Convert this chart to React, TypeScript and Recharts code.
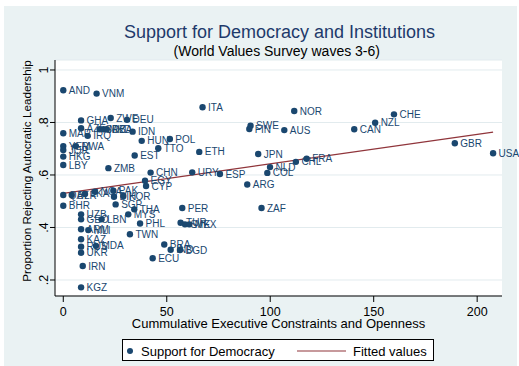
import React from 'react';
import { ScatterChart, Scatter, XAxis, YAxis, CartesianGrid, Legend } from 'recharts';

// ---- data ----
const countries = [
  'AND', 'VNM', 'GHA', 'ZWE', 'DEU', 'MAR', 'AZE', 'SRB', 'MKD', 'DZA',
  'IRQ', 'IDN', 'HUN', 'POL', 'TTO', 'EST', 'ZMB', 'YEM', 'RWA', 'JOR',
  'HKG', 'LBY', 'ITA', 'SWE', 'FIN', 'ETH', 'JPN', 'CHN', 'URY', 'ESP',
  'EGY', 'CYP', 'ARG', 'PER', 'ZAF', 'TUR', 'SVK', 'MEX', 'PHL', 'TWN',
  'BRA', 'IND', 'BGD', 'ECU', 'THA', 'MYS', 'QAT', 'BLR', 'LKA', 'NGA',
  'PAK', 'BIH', 'KOR', 'SGP', 'BHR', 'UZB', 'GEO', 'LBN', 'ARM', 'MLI',
  'KAZ', 'RUS', 'MDA', 'UKR', 'IRN', 'KGZ', 'NOR', 'AUS', 'CAN', 'NZL',
  'FRA', 'CHL', 'NLD', 'COL', 'CHE', 'GBR', 'USA',
];
const constraintScores = [
  0, 16.1, 8.6, 22.9, 30.8, 0, 8.6, 17.6, 19.4, 21.0,
  11.8, 33.5, 37.9, 51.5, 45.9, 34.5, 21.8, 0, 6.1, 0,
  0, 0, 67.3, 90.5, 89.9, 65.7, 94.2, 42.2, 62.3, 75.7,
  39.5, 40.0, 88.9, 57.5, 95.8, 56.7, 58.8, 60.9, 37.1, 32.2,
  48.8, 51.9, 56.4, 43.2, 34.3, 31.4, 0, 4.1, 10.5, 15.3,
  24.2, 24.5, 29.0, 25.3, 0, 8.6, 8.6, 18.5, 8.6, 12.1,
  8.6, 8.6, 15.8, 8.6, 9.4, 8.6, 111.6, 106.8, 140.6, 150.7,
  117.6, 112.4, 99.9, 98.6, 159.8, 189.2, 207.7,
];
const rejectShares = [
  0.923, 0.910, 0.808, 0.817, 0.810, 0.759, 0.778, 0.774, 0.774, 0.774,
  0.749, 0.765, 0.730, 0.737, 0.702, 0.674, 0.626, 0.710, 0.710, 0.695,
  0.670, 0.638, 0.858, 0.788, 0.775, 0.688, 0.680, 0.609, 0.610, 0.604,
  0.578, 0.558, 0.564, 0.474, 0.474, 0.418, 0.412, 0.412, 0.415, 0.374,
  0.335, 0.315, 0.314, 0.283, 0.469, 0.450, 0.524, 0.524, 0.528, 0.536,
  0.540, 0.517, 0.520, 0.488, 0.483, 0.450, 0.431, 0.431, 0.393, 0.390,
  0.355, 0.327, 0.330, 0.304, 0.253, 0.172, 0.844, 0.771, 0.774, 0.799,
  0.662, 0.650, 0.630, 0.608, 0.831, 0.721, 0.683,
];
const fittedX = [0, 207.7];
const fittedY = [0.530, 0.763];
const xTicks = [0, 50, 100, 150, 200];
const yTicks = [0.2, 0.4, 0.6, 0.8, 1];
const yTickLabels = ['.2', '.4', '.6', '.8', '1'];

const points = countries.map((name, i) => ({ name, x: constraintScores[i], y: rejectShares[i] }));
const fitted = fittedX.map((x, i) => ({ x, y: fittedY[i] }));

const NAVY = '#1a476f';
const MAROON = '#90353b';
const BG = '#eaf2f3';
const FONT = '"Liberation Sans", Arial, Helvetica, sans-serif';

const CountryDot = (props: any) => {
  const { cx, cy, payload } = props;
  if (cx == null || cy == null) return <g />;
  return (
    <g>
      <circle cx={cx} cy={cy} r={3.2} fill={NAVY} />
      <text x={cx + 5.5} y={cy} dy="0.36em" fontSize={10} fill={NAVY} fontFamily={FONT}>
        {payload.name}
      </text>
    </g>
  );
};

const YTick = (props: any) => {
  const { y, payload } = props;
  const idx = yTicks.indexOf(payload.value);
  const label = idx >= 0 ? yTickLabels[idx] : String(payload.value);
  const tx = 43;
  return (
    <text
      x={0}
      y={0}
      transform={`translate(${tx},${y}) rotate(-90)`}
      textAnchor="middle"
      dy="0.36em"
      fontSize={12.5}
      fill="#000"
      fontFamily={FONT}
    >
      {label}
    </text>
  );
};

const YTitle = () => {
  const cx = 27;
  const cy = 171;
  return (
    <text
      x={cx}
      y={cy}
      transform={`rotate(-90 ${cx} ${cy})`}
      textAnchor="middle"
      dy="0.36em"
      fontSize={11.7}
      fill="#000"
      fontFamily={FONT}
    >
      Proportion Rejecting Autocratic Leadership
    </text>
  );
};

const XTitle = () => (
  <text x={278.5} y={323.5} textAnchor="middle" dy="0.36em" fontSize={13} fill="#000" fontFamily={FONT}>
    Cummulative Executive Constraints and Openness
  </text>
);

const LegendBox = () => (
  <div
    style={{
      boxSizing: 'border-box',
      width: 312,
      height: 22,
      background: '#fff',
      border: '1px solid #000',
      position: 'relative',
      fontFamily: FONT,
      fontSize: 13,
      color: '#000',
    }}
  >
    <svg width={312} height={22} style={{ position: 'absolute', left: -1, top: -1 }}>
      <circle cx={8} cy={12} r={3} fill={NAVY} />
      <text x={19} y={12} dy="0.36em" fontSize={13} fontFamily={FONT} fill="#000">
        Support for Democracy
      </text>
      <line x1={175} y1={12} x2={224} y2={12} stroke={MAROON} strokeWidth={1.2} />
      <text x={231} y={12} dy="0.36em" fontSize={13} fontFamily={FONT} fill="#000">
        Fitted values
      </text>
    </svg>
  </div>
);

export default function App() {
  return (
    <div style={{ position: 'absolute', left: 0, top: 0, width: 519, height: 366, background: '#fff', fontFamily: FONT }}>
      <div style={{ position: 'absolute', left: 4, top: 6, width: 513, height: 360, background: BG }} />
      <div
        style={{
          position: 'absolute',
          left: 0,
          width: 559,
          top: 21,
          textAlign: 'center',
          fontSize: 18,
          lineHeight: '22px',
          color: '#1e3a6b',
          whiteSpace: 'nowrap',
        }}
      >
        Support for Democracy and Institutions
      </div>
      <div
        style={{
          position: 'absolute',
          left: 0,
          width: 553.5,
          top: 43,
          textAlign: 'center',
          fontSize: 14,
          lineHeight: '17px',
          color: '#000',
          whiteSpace: 'nowrap',
        }}
      >
        (World Values Survey waves 3-6)
      </div>
      <div style={{ position: 'absolute', left: 0, top: 0 }}>
        <ScatterChart width={519} height={366} margin={{ top: 60, right: 17, bottom: 40, left: 0 }}>
          <CartesianGrid vertical={false} stroke="#e2ebee" fill="#fff" />
          <XAxis
            type="number"
            dataKey="x"
            domain={[-4, 212]}
            ticks={xTicks}
            height={30}
            tickSize={6}
            tickMargin={5}
            stroke="#000"
            tick={{ fontSize: 12.5, fill: '#000', fontFamily: FONT }}
            label={XTitle}
          />
          <YAxis
            type="number"
            dataKey="y"
            domain={[0.139, 1.038]}
            ticks={yTicks}
            width={55}
            tickSize={5}
            stroke="#000"
            tick={YTick}
            label={YTitle}
          />
          <Legend
            layout="horizontal"
            verticalAlign="middle"
            align="center"
            wrapperStyle={{ left: 122, top: 339, width: 312, height: 22 }}
            content={() => <LegendBox />}
          />
          <Scatter
            name="Fitted values"
            data={fitted}
            line={{ stroke: MAROON, strokeWidth: 1.3 }}
            shape={() => <g />}
            isAnimationActive={false}
          />
          <Scatter name="Support for Democracy" data={points} shape={CountryDot} isAnimationActive={false} />
        </ScatterChart>
      </div>
    </div>
  );
}
